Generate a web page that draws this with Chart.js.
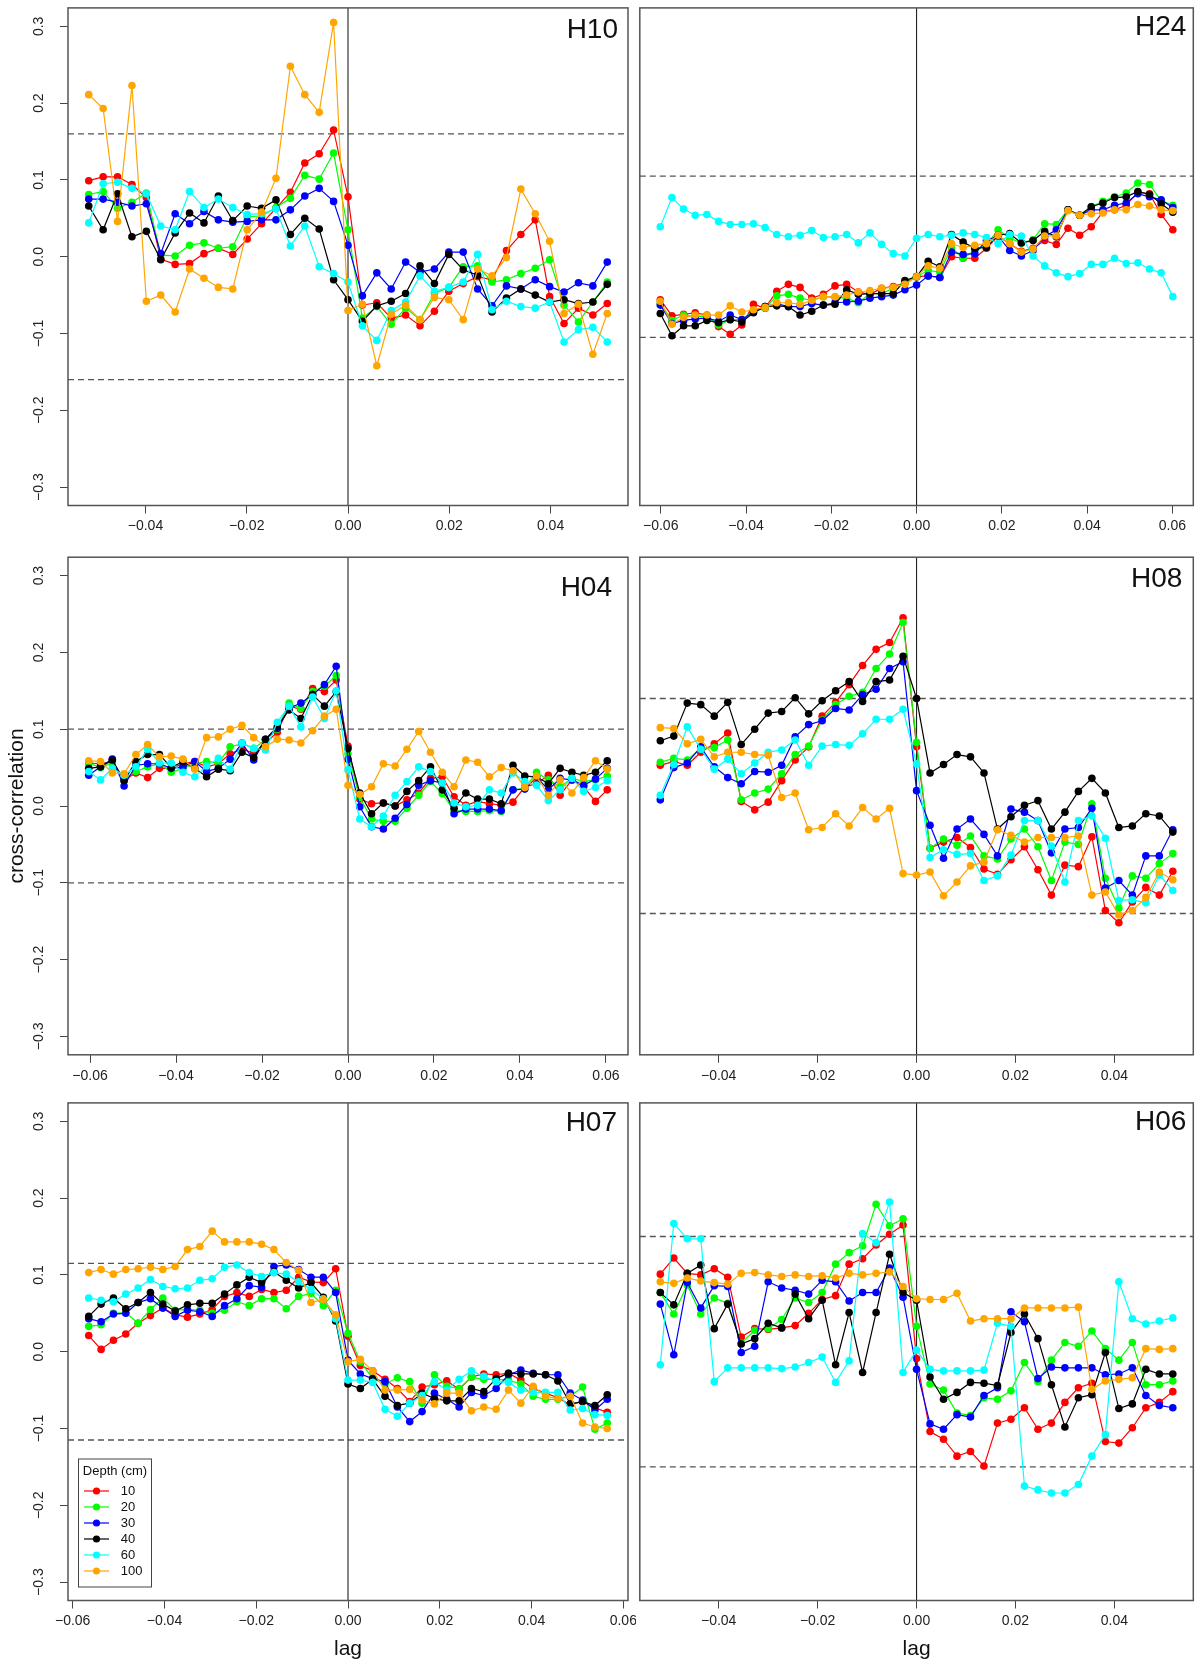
<!DOCTYPE html>
<html>
<head>
<meta charset="utf-8">
<title>Cross-correlation by depth</title>
<script src="https://cdn.jsdelivr.net/npm/chart.js@4.4.1/dist/chart.umd.min.js"></script>
<style>
  html, body { margin: 0; padding: 0; background: #fff; }
  #wrap { position: relative; width: 1198px; height: 1663px; }
  #wrap canvas { position: absolute; }
</style>
</head>
<body>
<div id="wrap">
  <canvas id="c-h10"></canvas>
  <canvas id="c-h24"></canvas>
  <canvas id="c-h04"></canvas>
  <canvas id="c-h08"></canvas>
  <canvas id="c-h07"></canvas>
  <canvas id="c-h06"></canvas>
</div>
<script>
// --- series labels, colours and tick values ---
const depths = ['10', '20', '30', '40', '60', '100'];
const depthColors = ['#ff0000', '#00ff00', '#0000ff', '#000000', '#00ffff', '#ffa500'];
const yTickValues = [-0.3, -0.2, -0.1, 0, 0.1, 0.2, 0.3];
const xTicksWide = [-0.06, -0.04, -0.02, 0, 0.02, 0.04, 0.06];
const xTicksNarrow = [-0.04, -0.02, 0, 0.02, 0.04];

// --- H10 (37 lags) ---
const h10_10 = [0.099,0.104,0.104,0.094,0.077,-0.003,-0.010,-0.009,0.004,0.011,0.003,0.023,0.043,0.063,0.084,0.122,0.134,0.165,0.078,-0.063,-0.060,-0.080,-0.076,-0.090,-0.071,-0.045,-0.035,-0.026,-0.030,0.008,0.029,0.048,-0.052,-0.087,-0.067,-0.076,-0.061];
const h10_20 = [0.081,0.085,0.063,0.071,0.083,0.002,0.001,0.015,0.018,0.011,0.013,0.052,0.053,0.064,0.076,0.106,0.101,0.135,0.035,-0.080,-0.065,-0.088,-0.067,-0.082,-0.048,-0.040,-0.013,-0.012,-0.033,-0.030,-0.022,-0.015,-0.004,-0.063,-0.085,-0.059,-0.033];
const h10_30 = [0.075,0.075,0.071,0.066,0.069,0.004,0.056,0.043,0.059,0.048,0.045,0.046,0.048,0.048,0.061,0.079,0.089,0.072,0.015,-0.051,-0.021,-0.042,-0.007,-0.020,-0.016,0.006,0.006,-0.042,-0.064,-0.038,-0.042,-0.030,-0.039,-0.046,-0.034,-0.038,-0.007];
const h10_40 = [0.066,0.035,0.082,0.026,0.033,-0.004,0.031,0.057,0.044,0.079,0.047,0.066,0.063,0.074,0.029,0.050,0.036,-0.030,-0.056,-0.084,-0.064,-0.058,-0.048,-0.012,-0.035,0.003,-0.017,-0.024,-0.072,-0.054,-0.042,-0.050,-0.059,-0.056,-0.061,-0.059,-0.036];
const h10_60 = [0.044,0.095,0.097,0.089,0.082,0.040,0.035,0.085,0.064,0.075,0.064,0.055,0.056,0.062,0.014,0.040,-0.013,-0.022,-0.033,-0.090,-0.109,-0.070,-0.059,-0.025,-0.045,-0.040,-0.033,0.003,-0.069,-0.058,-0.065,-0.067,-0.059,-0.111,-0.095,-0.092,-0.111];
const h10_100 = [0.211,0.193,0.046,0.223,-0.058,-0.050,-0.072,-0.016,-0.028,-0.040,-0.042,0.035,0.058,0.102,0.248,0.211,0.188,0.305,-0.070,-0.062,-0.142,-0.075,-0.063,-0.082,-0.053,-0.056,-0.082,-0.016,-0.025,-0.001,0.088,0.056,0.020,-0.074,-0.062,-0.127,-0.074];

// --- H24 (45 lags) ---
const h24_10 = [-0.056,-0.077,-0.075,-0.073,-0.076,-0.091,-0.101,-0.089,-0.062,-0.067,-0.045,-0.036,-0.040,-0.054,-0.049,-0.038,-0.036,-0.046,-0.049,-0.041,-0.039,-0.034,-0.026,-0.025,-0.027,0.000,-0.002,-0.002,0.011,0.027,0.017,0.007,0.011,0.021,0.016,0.037,0.028,0.039,0.058,0.061,0.067,0.084,0.082,0.055,0.035];
const h24_20 = [-0.061,-0.083,-0.076,-0.078,-0.078,-0.089,-0.082,-0.082,-0.070,-0.067,-0.051,-0.049,-0.054,-0.057,-0.052,-0.053,-0.054,-0.060,-0.048,-0.048,-0.041,-0.033,-0.026,-0.018,-0.020,0.012,-0.002,0.008,0.015,0.035,0.024,0.018,0.022,0.043,0.042,0.061,0.054,0.065,0.072,0.078,0.083,0.096,0.094,0.073,0.067];
const h24_30 = [-0.063,-0.087,-0.083,-0.081,-0.080,-0.084,-0.076,-0.082,-0.072,-0.065,-0.061,-0.065,-0.065,-0.061,-0.063,-0.060,-0.059,-0.058,-0.054,-0.052,-0.050,-0.043,-0.037,-0.025,-0.027,0.006,0.003,0.004,0.021,0.027,0.008,0.001,0.008,0.026,0.035,0.061,0.054,0.061,0.061,0.067,0.070,0.082,0.078,0.074,0.064];
const h24_40 = [-0.074,-0.103,-0.090,-0.090,-0.083,-0.086,-0.082,-0.085,-0.073,-0.065,-0.064,-0.065,-0.076,-0.071,-0.063,-0.062,-0.043,-0.049,-0.048,-0.048,-0.048,-0.031,-0.026,-0.006,-0.013,0.029,0.019,0.011,0.012,0.028,0.030,0.018,0.021,0.033,0.026,0.061,0.054,0.065,0.070,0.077,0.078,0.085,0.081,0.069,0.058];
const h24_60 = [0.039,0.077,0.062,0.054,0.055,0.046,0.042,0.042,0.043,0.038,0.029,0.026,0.028,0.034,0.025,0.026,0.029,0.018,0.031,0.016,0.004,0.001,0.024,0.029,0.026,0.028,0.031,0.029,0.025,0.017,0.029,0.027,0.001,-0.012,-0.021,-0.026,-0.022,-0.010,-0.010,-0.002,-0.009,-0.008,-0.016,-0.021,-0.052];
const h24_100 = [-0.058,-0.088,-0.079,-0.076,-0.076,-0.076,-0.064,-0.072,-0.069,-0.066,-0.060,-0.060,-0.062,-0.057,-0.052,-0.052,-0.050,-0.046,-0.044,-0.041,-0.040,-0.036,-0.026,-0.012,-0.015,0.017,0.012,0.015,0.017,0.028,0.017,0.006,0.010,0.027,0.027,0.060,0.054,0.056,0.057,0.061,0.061,0.068,0.066,0.061,0.060];

// --- H04 (45 lags) ---
const h04_10 = [0.056,0.055,0.058,0.034,0.043,0.037,0.049,0.049,0.055,0.058,0.051,0.055,0.068,0.074,0.069,0.082,0.096,0.130,0.126,0.153,0.149,0.164,0.078,0.009,0.003,0.004,0.000,0.008,0.017,0.036,0.038,0.012,0.001,0.006,0.003,0.001,0.005,0.025,0.029,0.040,0.014,0.034,0.025,0.006,0.021];
const h04_20 = [0.056,0.050,0.056,0.036,0.045,0.051,0.055,0.044,0.049,0.055,0.058,0.056,0.077,0.081,0.075,0.086,0.100,0.134,0.127,0.149,0.156,0.170,0.068,0.011,-0.017,-0.020,-0.020,-0.003,0.014,0.032,0.016,-0.006,-0.007,-0.007,-0.006,-0.007,0.021,0.023,0.044,0.034,0.025,0.036,0.032,0.034,0.039];
const h04_30 = [0.040,0.051,0.061,0.026,0.053,0.055,0.055,0.049,0.051,0.058,0.045,0.049,0.061,0.082,0.060,0.087,0.101,0.127,0.134,0.145,0.158,0.182,0.061,-0.001,-0.027,-0.030,-0.016,0.002,0.027,0.033,0.030,-0.010,-0.004,-0.004,-0.004,-0.006,0.021,0.022,0.038,0.021,0.036,0.034,0.027,0.035,0.049];
const h04_40 = [0.049,0.051,0.060,0.033,0.058,0.067,0.067,0.050,0.058,0.049,0.038,0.048,0.046,0.070,0.063,0.087,0.103,0.125,0.114,0.145,0.130,0.149,0.075,0.017,-0.010,0.004,0.000,0.019,0.033,0.051,0.021,-0.003,0.017,0.009,0.009,0.003,0.053,0.039,0.038,0.029,0.049,0.044,0.040,0.044,0.059];
const h04_60 = [0.045,0.034,0.049,0.040,0.051,0.074,0.056,0.056,0.044,0.038,0.052,0.062,0.048,0.082,0.075,0.073,0.109,0.130,0.103,0.142,0.114,0.150,0.047,-0.017,-0.027,-0.013,0.014,0.032,0.051,0.045,0.030,0.004,-0.001,0.001,0.021,0.017,0.043,0.032,0.027,0.007,0.021,0.036,0.019,0.024,0.033];
const h04_100 = [0.059,0.058,0.043,0.042,0.067,0.080,0.064,0.065,0.061,0.048,0.089,0.090,0.100,0.105,0.089,0.077,0.087,0.086,0.082,0.098,0.117,0.126,0.027,0.015,0.025,0.055,0.052,0.074,0.097,0.070,0.044,0.025,0.060,0.057,0.038,0.050,0.046,0.024,0.039,0.014,0.034,0.017,0.037,0.059,0.048];

// --- H08 (39 lags) ---
const h08_10 = [0.053,0.058,0.053,0.070,0.081,0.095,0.006,-0.005,0.005,0.033,0.060,0.077,0.117,0.135,0.158,0.183,0.204,0.213,0.245,0.077,-0.055,-0.047,-0.041,-0.054,-0.082,-0.089,-0.070,-0.053,-0.083,-0.116,-0.077,-0.079,-0.040,-0.136,-0.152,-0.125,-0.106,-0.116,-0.085];
const h08_20 = [0.057,0.062,0.060,0.075,0.076,0.086,0.008,0.017,0.022,0.042,0.067,0.078,0.112,0.132,0.143,0.148,0.179,0.198,0.239,0.083,-0.055,-0.043,-0.051,-0.039,-0.065,-0.069,-0.043,-0.030,-0.053,-0.097,-0.047,-0.050,0.003,-0.094,-0.133,-0.091,-0.094,-0.075,-0.062];
const h08_30 = [0.008,0.050,0.056,0.077,0.051,0.037,0.029,0.045,0.044,0.053,0.090,0.106,0.111,0.127,0.125,0.145,0.152,0.179,0.188,0.020,-0.025,-0.068,-0.030,-0.017,-0.037,-0.065,-0.004,-0.008,-0.019,-0.061,-0.030,-0.028,-0.003,-0.107,-0.097,-0.116,-0.065,-0.065,-0.031];
const h08_40 = [0.085,0.091,0.134,0.132,0.117,0.135,0.080,0.100,0.121,0.123,0.141,0.120,0.137,0.150,0.162,0.136,0.162,0.164,0.195,0.140,0.043,0.054,0.067,0.064,0.043,-0.030,-0.014,0.001,0.007,-0.030,-0.008,0.019,0.036,0.017,-0.028,-0.026,-0.010,-0.013,-0.034];
const h08_60 = [0.014,0.054,0.103,0.074,0.048,0.061,0.042,0.056,0.070,0.073,0.086,0.053,0.078,0.080,0.079,0.094,0.113,0.113,0.126,0.055,-0.067,-0.057,-0.063,-0.062,-0.097,-0.091,-0.064,-0.019,-0.019,-0.052,-0.099,-0.019,-0.013,-0.042,-0.123,-0.122,-0.126,-0.090,-0.110];
const h08_100 = [0.102,0.101,0.081,0.087,0.064,0.070,0.070,0.067,0.066,0.011,0.017,-0.031,-0.028,-0.010,-0.026,-0.002,-0.017,-0.003,-0.088,-0.090,-0.086,-0.117,-0.099,-0.078,-0.073,-0.031,-0.038,-0.047,-0.041,-0.041,-0.041,-0.039,-0.116,-0.112,-0.142,-0.136,-0.119,-0.086,-0.096];

// --- H07 (43 lags) ---
const h07_10 = [0.021,0.003,0.015,0.023,0.037,0.047,0.057,0.048,0.045,0.049,0.055,0.072,0.077,0.072,0.081,0.077,0.080,0.097,0.091,0.090,0.108,0.020,-0.018,-0.025,-0.036,-0.048,-0.065,-0.046,-0.043,-0.038,-0.049,-0.033,-0.029,-0.030,-0.028,-0.037,-0.048,-0.054,-0.060,-0.069,-0.065,-0.073,-0.079];
const h07_20 = [0.033,0.035,0.050,0.051,0.037,0.055,0.070,0.054,0.055,0.054,0.050,0.054,0.065,0.060,0.069,0.069,0.056,0.072,0.076,0.060,0.080,0.024,-0.013,-0.035,-0.042,-0.034,-0.039,-0.067,-0.030,-0.045,-0.048,-0.033,-0.036,-0.036,-0.037,-0.042,-0.058,-0.062,-0.062,-0.058,-0.046,-0.101,-0.093];
const h07_30 = [0.043,0.039,0.049,0.050,0.064,0.069,0.057,0.046,0.054,0.052,0.046,0.060,0.069,0.086,0.084,0.111,0.113,0.107,0.097,0.097,0.077,-0.011,-0.029,-0.035,-0.039,-0.072,-0.091,-0.078,-0.054,-0.062,-0.072,-0.053,-0.057,-0.048,-0.030,-0.024,-0.028,-0.030,-0.030,-0.054,-0.063,-0.076,-0.062];
const h07_40 = [0.046,0.062,0.070,0.056,0.064,0.077,0.062,0.053,0.061,0.063,0.063,0.075,0.087,0.097,0.090,0.104,0.093,0.083,0.090,0.071,0.040,-0.042,-0.048,-0.036,-0.058,-0.070,-0.067,-0.054,-0.061,-0.064,-0.064,-0.048,-0.052,-0.035,-0.028,-0.029,-0.029,-0.030,-0.038,-0.068,-0.065,-0.070,-0.056];
const h07_60 = [0.070,0.067,0.065,0.075,0.083,0.094,0.085,0.082,0.083,0.093,0.095,0.110,0.113,0.103,0.098,0.103,0.101,0.091,0.081,0.069,0.043,-0.037,-0.037,-0.040,-0.075,-0.084,-0.067,-0.057,-0.039,-0.050,-0.036,-0.025,-0.032,-0.039,-0.040,-0.050,-0.053,-0.053,-0.053,-0.076,-0.074,-0.082,-0.083];
const h07_100 = [0.103,0.107,0.101,0.107,0.108,0.110,0.107,0.111,0.133,0.137,0.157,0.143,0.143,0.143,0.140,0.133,0.116,0.106,0.064,0.068,0.048,-0.013,-0.010,-0.025,-0.050,-0.050,-0.049,-0.063,-0.068,-0.054,-0.054,-0.077,-0.072,-0.075,-0.050,-0.067,-0.045,-0.058,-0.061,-0.058,-0.093,-0.098,-0.100];

// --- H06 (39 lags) ---
const h06_10 = [0.101,0.122,0.102,0.100,0.108,0.097,0.019,0.030,0.029,0.031,0.034,0.050,0.068,0.073,0.114,0.121,0.139,0.153,0.165,-0.009,-0.104,-0.114,-0.136,-0.130,-0.149,-0.093,-0.088,-0.073,-0.101,-0.093,-0.066,-0.047,-0.041,-0.117,-0.119,-0.099,-0.073,-0.066,-0.052];
const h06_20 = [0.077,0.049,0.087,0.049,0.070,0.063,0.011,0.028,0.030,0.042,0.070,0.064,0.077,0.114,0.129,0.138,0.192,0.164,0.173,0.033,-0.042,-0.050,-0.080,-0.083,-0.060,-0.062,-0.051,-0.014,-0.039,-0.011,0.012,0.007,0.027,0.004,-0.011,0.012,-0.043,-0.043,-0.038];
const h06_30 = [0.062,-0.004,0.090,0.057,0.086,0.085,-0.001,0.007,0.091,0.083,0.080,0.075,0.093,0.091,0.066,0.077,0.077,0.109,0.071,-0.023,-0.094,-0.101,-0.082,-0.085,-0.057,-0.047,0.052,0.039,-0.035,-0.020,-0.021,-0.021,-0.021,-0.030,-0.029,-0.021,-0.057,-0.070,-0.073];
const h06_40 = [0.077,0.061,0.102,0.113,0.030,0.062,0.010,0.017,0.037,0.031,0.075,0.043,0.067,-0.017,0.051,-0.027,0.051,0.127,0.077,0.067,-0.033,-0.062,-0.053,-0.040,-0.041,-0.044,0.025,0.049,0.017,-0.043,-0.098,-0.060,-0.056,-0.001,-0.074,-0.068,-0.023,-0.029,-0.029];
const h06_60 = [-0.017,0.167,0.147,0.147,-0.039,-0.021,-0.021,-0.021,-0.021,-0.022,-0.020,-0.014,-0.007,-0.040,-0.012,0.154,0.142,0.195,-0.027,0.002,-0.023,-0.025,-0.025,-0.025,-0.024,0.037,0.033,-0.175,-0.180,-0.184,-0.184,-0.173,-0.136,-0.108,0.091,0.043,0.036,0.040,0.044];
const h06_100 = [0.091,0.089,0.096,0.092,0.090,0.088,0.102,0.103,0.100,0.098,0.100,0.098,0.099,0.096,0.102,0.100,0.102,0.104,0.085,0.069,0.068,0.068,0.076,0.040,0.043,0.043,0.043,0.057,0.057,0.057,0.057,0.058,-0.049,-0.038,-0.036,-0.034,0.004,0.003,0.004];

// --- page geometry (px) ---
const cols = [
  { left: 0, width: 636, padLeft: 0, padRight: 8, yAxisWidth: 68 },
  { left: 636, width: 562, padLeft: 0.7, padRight: 4.7, yAxisWidth: 0 }
];
const rows = [
  { top: 0, height: 545, padTop: 7.9, xAxisHeight: 39.5 },
  { top: 545, height: 548, padTop: 12.2, xAxisHeight: 38.2 },
  { top: 1093, height: 570, padTop: 9.9, xAxisHeight: 62.5 }
];

// maxLag = last lag plotted; sig = dashed confidence band; nameAt = [from right, from top] of the site label
const panels = [
  { id: 'c-h10', name: 'H10', col: 0, row: 0, maxLag: 0.0512, sig: 0.16, xTicks: xTicksNarrow, nameAt: [10, 10],
    series: [h10_10, h10_20, h10_30, h10_40, h10_60, h10_100] },
  { id: 'c-h24', name: 'H24', col: 1, row: 0, maxLag: 0.0601, sig: 0.105, xTicks: xTicksWide, nameAt: [7, 7],
    series: [h24_10, h24_20, h24_30, h24_40, h24_60, h24_100] },
  { id: 'c-h04', name: 'H04', col: 0, row: 1, maxLag: 0.0603, sig: 0.1, xTicks: xTicksWide, nameAt: [16, 19], yTitle: true,
    series: [h04_10, h04_20, h04_30, h04_40, h04_60, h04_100] },
  { id: 'c-h08', name: 'H08', col: 1, row: 1, maxLag: 0.0518, sig: 0.14, xTicks: xTicksNarrow, nameAt: [11, 10],
    series: [h08_10, h08_20, h08_30, h08_40, h08_60, h08_100] },
  { id: 'c-h07', name: 'H07', col: 0, row: 2, maxLag: 0.0565, sig: 0.115, xTicks: xTicksWide, nameAt: [11, 8], legend: true,
    series: [h07_10, h07_20, h07_30, h07_40, h07_60, h07_100] },
  { id: 'c-h06', name: 'H06', col: 1, row: 2, maxLag: 0.0518, sig: 0.15, xTicks: xTicksNarrow, nameAt: [7, 7],
    series: [h06_10, h06_20, h06_30, h06_40, h06_60, h06_100] }
];

const FONT = '"Liberation Sans", Arial, Helvetica, sans-serif';
Chart.defaults.font.family = FONT;

function fmt(v, digits) {
  return (v < 0 ? '\u2212' : '') + Math.abs(v).toFixed(digits);
}

// dashed band, zero line, frame, site label and legend
const panelDeco = {
  id: 'panelDeco',
  beforeDatasetsDraw(chart, args, opts) {
    const { ctx, chartArea: a, scales: { x, y } } = chart;
    ctx.save();
    ctx.strokeStyle = '#555';
    ctx.lineWidth = 1.3;
    ctx.setLineDash([6, 4]);
    [opts.sig, -opts.sig].forEach(v => {
      const py = y.getPixelForValue(v);
      ctx.beginPath();
      ctx.moveTo(a.left, py);
      ctx.lineTo(a.right, py);
      ctx.stroke();
    });
    ctx.setLineDash([]);
    ctx.strokeStyle = '#222';
    ctx.lineWidth = 1.1;
    const px = x.getPixelForValue(0);
    ctx.beginPath();
    ctx.moveTo(px, a.top);
    ctx.lineTo(px, a.bottom);
    ctx.stroke();
    ctx.restore();
  },
  afterDatasetsDraw(chart, args, opts) {
    const { ctx, chartArea: a } = chart;
    ctx.save();
    ctx.strokeStyle = '#555';
    ctx.lineWidth = 1.5;
    ctx.strokeRect(a.left, a.top, a.right - a.left, a.bottom - a.top);

    ctx.fillStyle = '#111';
    ctx.font = '28px ' + FONT;
    ctx.textAlign = 'right';
    ctx.textBaseline = 'alphabetic';
    ctx.fillText(opts.name, a.right - opts.nameAt[0], a.top + opts.nameAt[1] + 20);

    if (opts.legend) {
      const lw = 73, lh = 128;
      const lx = a.left + 10.5, ly = a.bottom - 13.5 - lh;
      ctx.fillStyle = '#fff';
      ctx.fillRect(lx, ly, lw, lh);
      ctx.strokeStyle = '#444';
      ctx.lineWidth = 1;
      ctx.strokeRect(lx, ly, lw, lh);
      ctx.fillStyle = '#111';
      ctx.font = '13px ' + FONT;
      ctx.textAlign = 'left';
      ctx.fillText('Depth (cm)', lx + 4.3, ly + 16);
      ctx.textBaseline = 'middle';
      chart.data.datasets.forEach((ds, i) => {
        const ry = ly + 32 + i * 16;
        ctx.strokeStyle = ds.borderColor;
        ctx.lineWidth = 1.2;
        ctx.beginPath();
        ctx.moveTo(lx + 5.5, ry);
        ctx.lineTo(lx + 30.5, ry);
        ctx.stroke();
        ctx.fillStyle = ds.borderColor;
        ctx.beginPath();
        ctx.arc(lx + 18, ry, 3.6, 0, Math.PI * 2);
        ctx.fill();
        ctx.fillStyle = '#111';
        ctx.fillText(ds.label, lx + 42.2, ry);
      });
    }
    ctx.restore();
  }
};

panels.forEach(p => {
  const col = cols[p.col];
  const row = rows[p.row];
  const canvas = document.getElementById(p.id);
  canvas.width = col.width;
  canvas.height = row.height;
  canvas.style.left = col.left + 'px';
  canvas.style.top = row.top + 'px';

  const n = p.series[0].length;
  const lags = p.series[0].map((_, j) => -p.maxLag + j * 2 * p.maxLag / (n - 1));
  const xLim = p.maxLag * 1.08;

  const datasets = p.series.map((vals, i) => ({
    label: depths[i],
    data: vals.map((v, j) => ({ x: lags[j], y: v })),
    borderColor: depthColors[i],
    backgroundColor: depthColors[i],
    pointBackgroundColor: depthColors[i],
    pointBorderWidth: 0,
    pointRadius: 3.8,
    pointHoverRadius: 3.8,
    borderWidth: 1.2,
    tension: 0,
    order: depths.length - i
  }));

  const tickFont = { size: 14, family: FONT };

  new Chart(canvas.getContext('2d'), {
    type: 'line',
    data: { datasets },
    plugins: [panelDeco],
    options: {
      responsive: false,
      animation: false,
      events: [],
      layout: { padding: { left: col.padLeft, right: col.padRight, top: row.padTop, bottom: 0 } },
      scales: {
        x: {
          type: 'linear',
          min: -xLim,
          max: xLim,
          afterBuildTicks: s => { s.ticks = p.xTicks.map(v => ({ value: v })); },
          afterFit: s => { s.height = row.xAxisHeight; s.paddingLeft = 0; s.paddingRight = 0; },
          grid: { display: true, drawOnChartArea: false, drawTicks: true, tickLength: 8, color: '#444' },
          border: { display: false },
          ticks: { font: tickFont, color: '#222', padding: 4.5, maxRotation: 0, autoSkip: false,
                   callback: v => fmt(v, 2) },
          title: { display: p.row === 2, text: 'lag', color: '#111', font: { size: 21, family: FONT },
                   padding: { top: 0, bottom: 1 } }
        },
        y: {
          type: 'linear',
          display: p.col === 0,
          min: -0.324,
          max: 0.324,
          afterBuildTicks: s => { s.ticks = yTickValues.map(v => ({ value: v })); },
          afterFit: s => { s.width = col.yAxisWidth; s.paddingTop = 0; s.paddingBottom = 0; },
          grid: { display: true, drawOnChartArea: false, drawTicks: true, tickLength: 8, color: '#444' },
          border: { display: false },
          ticks: { font: tickFont, color: '#222', padding: 7, minRotation: 90, maxRotation: 90,
                   crossAlign: 'center', autoSkip: false, callback: v => fmt(v, 1) },
          title: { display: !!p.yTitle, text: 'cross-correlation', color: '#111',
                   font: { size: 21, family: FONT }, padding: { top: 5, bottom: 0 } }
        }
      },
      plugins: {
        legend: { display: false },
        tooltip: { enabled: false },
        panelDeco: { sig: p.sig, name: p.name, nameAt: p.nameAt, legend: !!p.legend }
      }
    }
  });
});
</script>
</body>
</html>
